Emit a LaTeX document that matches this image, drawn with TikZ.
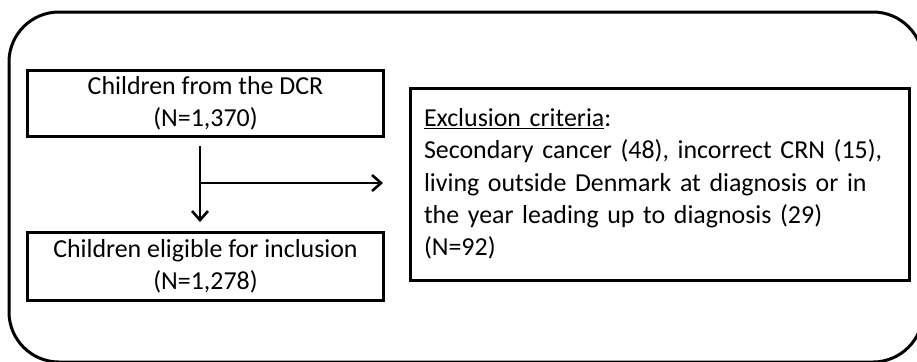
\documentclass[tikz,border=0pt]{standalone}
\usepackage{fontspec}
\setmainfont{Carlito}
\usetikzlibrary{arrows.meta}
\begin{document}
\begin{tikzpicture}[x=1bp,y=-1bp,
  flowbox/.style={draw=black,line width=3bp,inner sep=0pt,
    font=\fontsize{26}{32.5}\selectfont},
  conn/.style={draw=black,line width=2.6bp,-{Straight Barb[length=9bp,width=16bp,line width=2.6bp]}}]
\useasboundingbox (0,0) rectangle (917,361);
\draw[line width=3bp,rounded corners=50bp] (9,12) rectangle (923,362);
\node[flowbox,minimum width=355bp,minimum height=66bp,align=center] (dcr) at (205.5,103)
  {Children from the DCR\\(N=1,370)};
\node[flowbox,minimum width=355bp,minimum height=68bp,align=center] (elig) at (205.5,266)
  {Children eligible for inclusion\\(N=1,278)};
\node[flowbox,minimum width=499bp,minimum height=192bp,text width=471bp,align=left] (excl) at (659.5,184)
  {\underline{Exclusion criteria}:\\Secondary cancer (48), incorrect CRN (15),\\living outside Denmark at diagnosis or in\\the year leading up to diagnosis (29)\\(N=92)};
\coordinate (vtop) at (200,146);
\coordinate (vbot) at (200,222);
\coordinate (split) at (200,183);
\coordinate (hend) at (383,183);
\draw[conn] (vtop) -- (vbot);
\draw[conn] (split) -- (hend);
\end{tikzpicture}
\end{document}
